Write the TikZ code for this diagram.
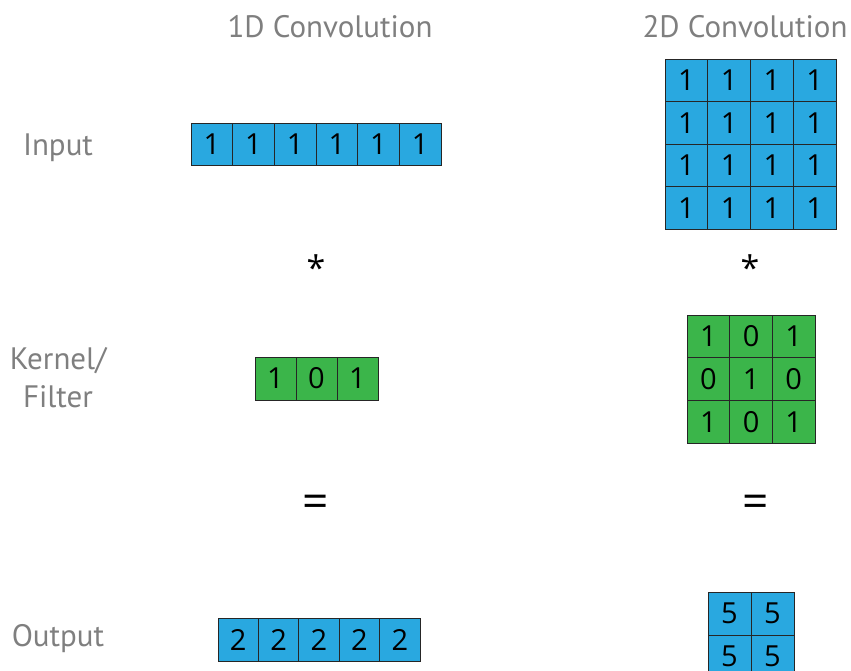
\documentclass[tikz,border=0pt]{standalone}
\usepackage{fontspec}
\setmainfont{PT Sans}
\newfontfamily\cellfont{Open Sans}
\begin{document}
\begin{tikzpicture}[x=1pt,y=-1pt,
  title/.style={text=labelgray,font=\fontsize{31}{33}\selectfont},
  rowlabel/.style={text=labelgray,font=\fontsize{31}{38}\selectfont,align=center},
  cellbox/.style={draw=black!85,line width=0.9pt,inner sep=0pt,
    font=\cellfont\fontsize{29}{29}\selectfont},
  bluecell/.style={cellbox,fill=cellblue},
  greencell/.style={cellbox,fill=cellgreen},
  starop/.style={font=\cellfont\fontsize{34}{34}\selectfont},
  eqop/.style={font=\cellfont\fontsize{46}{46}\selectfont}]
\definecolor{cellblue}{HTML}{29A8E0}
\definecolor{cellgreen}{HTML}{3BB54A}
\definecolor{labelgray}{HTML}{7F7F7F}
\useasboundingbox (0,0) rectangle (851,670);
\clip (0,0) rectangle (851,670);

% column titles
\node[title] (t1) at (330,27) {1D Convolution};
\node[title] (t2) at (745,27) {2D Convolution};

% row labels
\node[rowlabel] (lin) at (58,148) {Input};
\node[rowlabel] (lker) at (58,378) {Kernel/\\Filter};
\node[rowlabel] (lout) at (58,639) {Output};

% 1D input: six cells
\foreach \v [count=\i] in {1,1,1,1,1,1}
  \node[bluecell,minimum width=41.67pt,minimum height=42pt]
    (a\i) at ({191+41.67*(\i-0.5)},144) {\v};

% 1D kernel
\foreach \v [count=\i] in {1,0,1}
  \node[greencell,minimum width=41pt,minimum height=43pt]
    (k\i) at ({255+41*(\i-0.5)},378.5) {\v};

% 1D output
\foreach \v [count=\i] in {2,2,2,2,2}
  \node[bluecell,minimum width=40.4pt,minimum height=43pt]
    (o\i) at ({218+40.4*(\i-0.5)},639.5) {\v};

% 2D input: 4x4
\foreach \r in {1,...,4}
  \foreach \c in {1,...,4}
    \node[bluecell,minimum width=42.75pt,minimum height=42.5pt]
      (A\r\c) at ({665+42.75*(\c-0.5)},{59+42.5*(\r-0.5)}) {1};

% 2D kernel: 3x3
\foreach \row [count=\r] in {{1,0,1},{0,1,0},{1,0,1}}
  \foreach \v [count=\c] in \row
    \node[greencell,minimum width=42.7pt,minimum height=42.7pt]
      (K\r\c) at ({687+42.7*(\c-0.5)},{315+42.7*(\r-0.5)}) {\v};

% 2D output: 2x2 (lower row runs past the bottom edge)
\foreach \r in {1,2}
  \foreach \c in {1,2}
    \node[bluecell,minimum width=43pt,minimum height=43pt]
      (O\r\c) at ({708+43*(\c-0.5)},{592+43*(\r-0.5)}) {5};

% operators
\node[starop] (s1) at (316,268) {*};
\node[starop] (s2) at (750,268) {*};
\node[eqop] (e1) at (316,506) {=};
\node[eqop] (e2) at (756,506) {=};
\end{tikzpicture}
\end{document}
